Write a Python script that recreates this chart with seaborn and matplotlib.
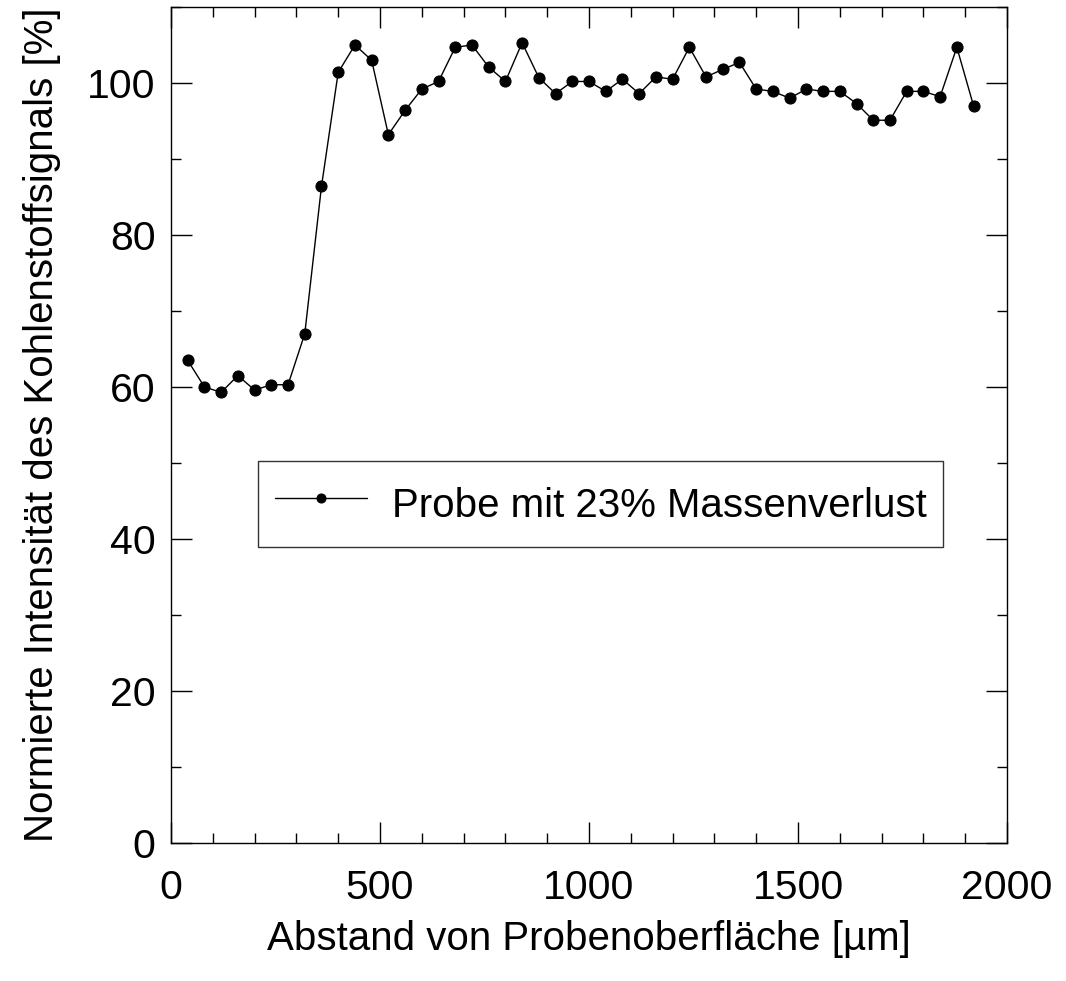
import numpy as np
import pandas as pd
import matplotlib
matplotlib.use("Agg")
import matplotlib.pyplot as plt
import seaborn as sns
from matplotlib.ticker import MultipleLocator

# Data
abstand = [40, 80, 120, 160, 200, 240, 280, 320, 360, 400,
           440, 480, 520, 560, 600, 640, 680, 720, 760, 800,
           840, 880, 920, 960, 1000, 1040, 1080, 1120, 1160, 1200,
           1240, 1280, 1320, 1360, 1400, 1440, 1480, 1520, 1560, 1600,
           1640, 1680, 1720, 1760, 1800, 1840, 1880, 1920]
intensitaet = [63.5, 60.0, 59.3, 61.5, 59.6, 60.3, 60.3, 67.0, 86.4, 101.4,
               105.0, 103.0, 93.2, 96.4, 99.2, 100.2, 104.7, 105.0, 102.1, 100.2,
               105.3, 100.7, 98.6, 100.2, 100.2, 98.9, 100.5, 98.6, 100.8, 100.5,
               104.7, 100.8, 101.8, 102.7, 99.2, 98.9, 98.0, 99.2, 98.9, 98.9,
               97.3, 95.1, 95.1, 98.9, 98.9, 98.2, 104.7, 97.0]
serie = "Probe mit 23% Massenverlust"
xlabel = "Abstand von Probenoberfläche [µm]"
ylabel = "Normierte Intensität des Kohlenstoffsignals [%]"

df = pd.DataFrame({"x": abstand, "y": intensitaet, "serie": serie})

sns.set_theme(style="white")
plt.rcParams["font.family"] = ["Liberation Sans", "DejaVu Sans"]
for k in ["text.color", "axes.labelcolor", "xtick.color", "ytick.color",
          "axes.edgecolor"]:
    plt.rcParams[k] = "black"

FS = 29.5

fig = plt.figure(figsize=(10.66, 9.81), dpi=100)
ax = fig.add_axes([171/1066, 1-843/981, 836/1066, 836/981])

sns.lineplot(data=df, x="x", y="y", hue="serie", palette=["black"],
             marker="o", markersize=8, markeredgecolor="black",
             linewidth=1.0, ax=ax, legend=True)

ax.set_xlim(0, 2000)
ax.set_ylim(0, 110)
ax.xaxis.set_major_locator(MultipleLocator(500))
ax.xaxis.set_minor_locator(MultipleLocator(100))
ax.yaxis.set_major_locator(MultipleLocator(20))
ax.yaxis.set_minor_locator(MultipleLocator(10))
ax.tick_params(which="both", direction="in", top=True, right=True,
               bottom=True, left=True, color="black", width=1)
ax.tick_params(which="major", length=15, labelsize=FS, pad=11)
ax.tick_params(which="minor", length=7.5)
ax.tick_params(axis="x", which="major", pad=19)
for s in ax.spines.values():
    s.set_color("black")
    s.set_linewidth(1.0)

ax.set_xlabel(xlabel, fontsize=29, labelpad=9)
ax.set_ylabel(ylabel, fontsize=29)
ax.yaxis.set_label_coords(-0.132, 0.5)

handles, labels = ax.get_legend_handles_labels()
for h in handles:
    h.set_markersize(6.5)
leg = ax.legend(handles, labels, loc="center", bbox_to_anchor=(0.514, 0.4055),
                fontsize=29, frameon=True, fancybox=False, handlelength=2.28,
                handleheight=1.6, borderpad=0.42, handletextpad=0.62,
                borderaxespad=0)
leg.get_frame().set_edgecolor("black")
leg.get_frame().set_linewidth(1.0)

fig.savefig("out.png", dpi=100)
